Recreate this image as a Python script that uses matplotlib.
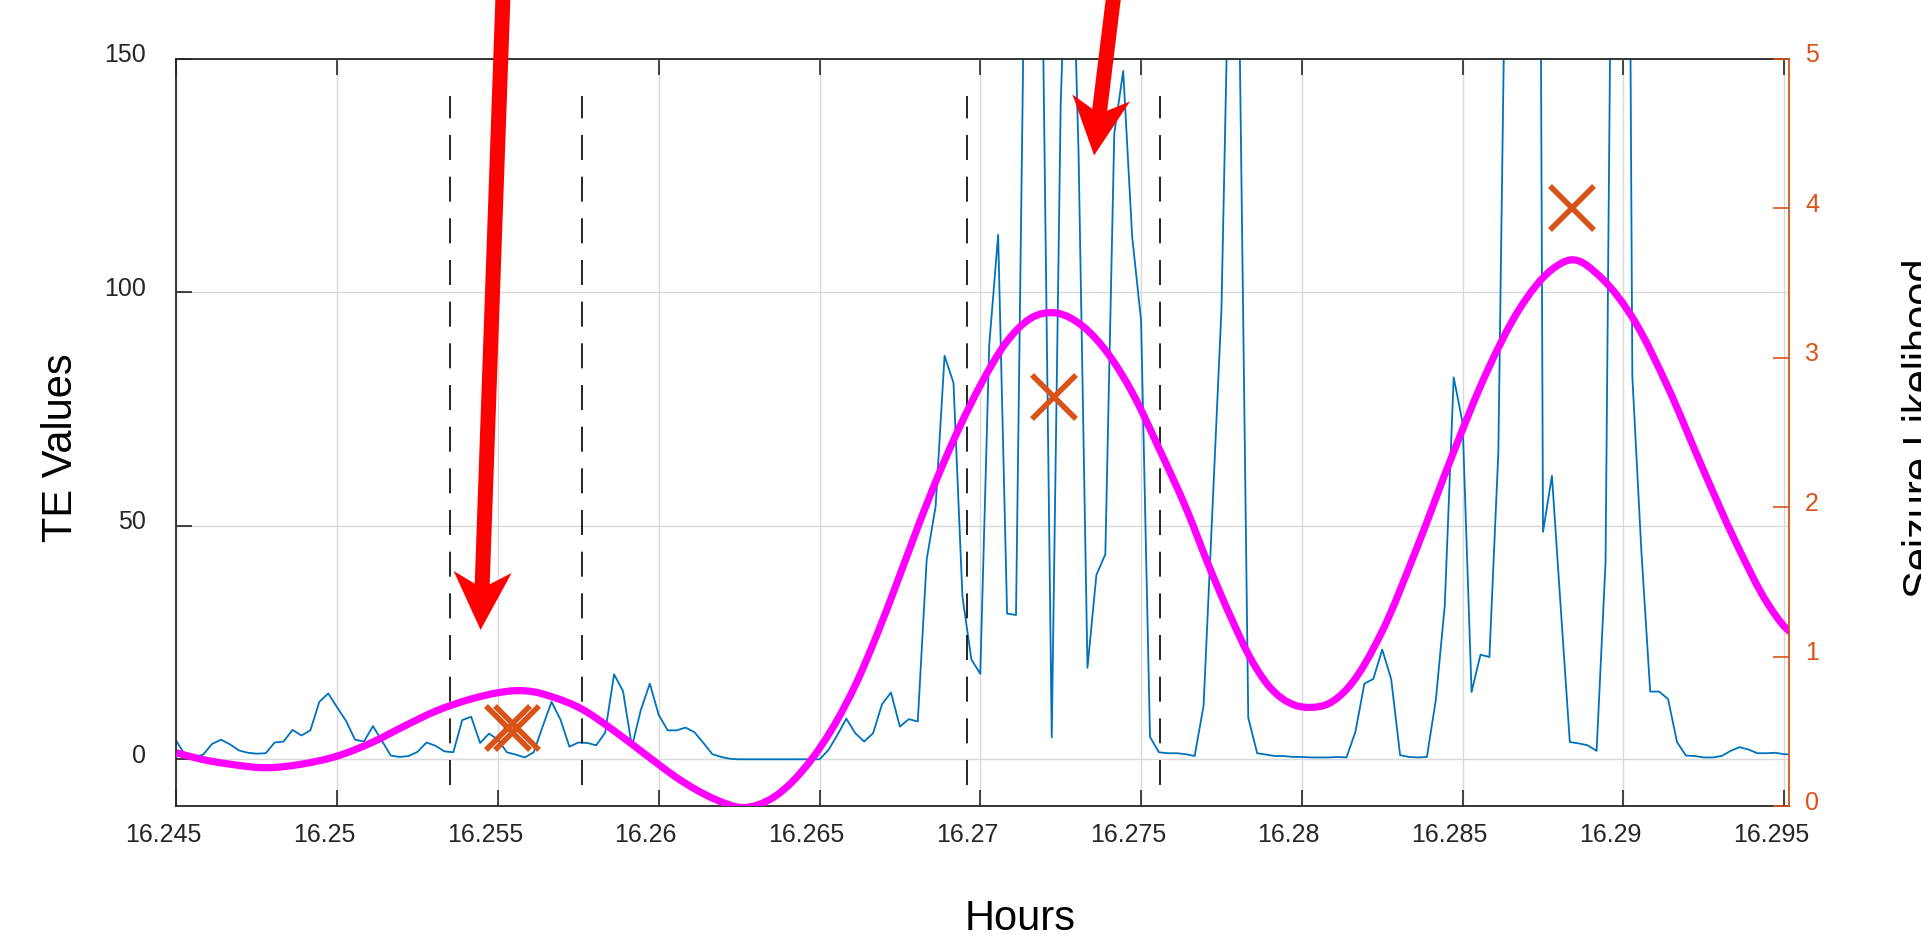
import numpy as np
import matplotlib
matplotlib.use("Agg")
import matplotlib.pyplot as plt
from matplotlib.path import Path
from matplotlib.patches import PathPatch, Polygon
from matplotlib.transforms import ScaledTranslation, IdentityTransform

plt.rcParams['font.family'] = ['Liberation Sans', 'DejaVu Sans']

# TE values, one sample per second starting at 16.245 h
start_hour = 16.245
te_values = [
    3.9, 0.8, 0.5, 1.0, 3.3, 4.2, 3.2, 1.9, 1.4, 1.2,
    1.3, 3.6, 3.8, 6.3, 5.1, 6.2, 12.3, 14.1, 11.1, 8.2,
    4.2, 3.8, 7.1, 4.0, 0.8, 0.5, 0.7, 1.6, 3.6, 2.9,
    1.7, 1.5, 8.4, 9.1, 3.5, 5.5, 4.2, 1.5, 1.0, 0.4,
    1.5, 7.0, 12.3, 8.5, 2.7, 3.6, 3.5, 3.0, 5.7, 18.2,
    14.6, 2.7, 10.6, 16.2, 9.5, 6.2, 6.2, 6.8, 5.8, 3.5,
    1.1, 0.5, 0.1, 0.0, 0.0, 0.0, 0.0, 0.0, 0.0, 0.0,
    0.0, 0.0, 0.0, 2.0, 5.2, 8.7, 5.6, 3.8, 5.6, 11.8,
    14.3, 7.0, 8.6, 8.1, 42.8, 54.2, 86.4, 80.6, 34.9, 21.4,
    18.3, 88.7, 112.3, 31.2, 30.9, 180, 220, 160, 4.7, 140,
    200, 130, 19.6, 39.5, 43.9, 134, 147.4, 112, 94, 4.8,
    1.5, 1.3, 1.3, 1.1, 0.7, 11.5, 54, 96.3, 190, 160,
    8.9, 1.3, 1.0, 0.7, 0.7, 0.5, 0.5, 0.4, 0.4, 0.4,
    0.5, 0.4, 5.9, 16.2, 17.2, 23.5, 17.2, 0.9, 0.5, 0.4,
    0.5, 12.7, 32.9, 81.8, 72, 14.4, 22.4, 21.9, 65.8, 206,
    400, 450, 500, 48.7, 60.7, 32, 3.7, 3.4, 3.0, 1.8,
    42.1, 258, 420, 82, 45, 14.5, 14.5, 12.9, 3.7, 0.8,
    0.7, 0.4, 0.4, 0.7, 1.8, 2.6, 2.1, 1.3, 1.3, 1.4,
    1.1, 1.0,
]
hours = start_hour + np.arange(len(te_values)) / 3600.0

# smoothed seizure likelihood (right axis)
lik_seconds = [0, 3, 6, 10, 14, 18, 22, 25.5, 29, 33, 36, 38, 40, 42, 45.5,
               48.5, 51.3, 53.5, 56, 58, 60.5, 63.3, 67, 71, 73.8, 76.1, 78.4,
               80.75, 83.1, 85.4, 87.7, 90, 92.8, 95.6, 98.6, 101.4, 104.4,
               107.1, 110, 113.2, 115.5, 118, 120.1, 122.2, 125.2, 127, 129,
               131.3, 135, 138.7, 143, 146.6, 150.3, 154, 156.2, 159.6, 163.3,
               167, 170.8, 174.5, 178.2, 180.2, 181]
lik_values = [0.356, 0.31, 0.28, 0.256, 0.28, 0.334, 0.428, 0.534, 0.634, 0.716,
              0.758, 0.772, 0.764, 0.732, 0.645, 0.525, 0.40, 0.30, 0.19, 0.115,
              0.04, -0.01, 0.064, 0.304, 0.556, 0.82, 1.142, 1.506, 1.882, 2.227,
              2.538, 2.814, 3.094, 3.262, 3.298, 3.214, 3.019, 2.757, 2.394, 1.97,
              1.62, 1.27, 1.005, 0.81, 0.675, 0.66, 0.685, 0.80, 1.17, 1.70,
              2.37, 2.89, 3.32, 3.59, 3.655, 3.53, 3.24, 2.80, 2.27, 1.775,
              1.35, 1.19, 1.15]
lik_hours = start_hour + np.array(lik_seconds) / 3600.0

# seizure markers (right axis)
marker_hours = [16.2553, 16.2556, 16.2723, 16.2884]
marker_values = [0.52, 0.52, 2.74, 4.0]

# dashed window boundaries (left axis)
window_hours = [16.2535, 16.2576, 16.2696, 16.2756]
window_low, window_high = -5.5, 142

# red arrows: (hours, TE value) of tip and tail
arrow_tips = [(16.25446, 27.7), (16.27354, 129.3)]
arrow_tails = [(16.2552, 172), (16.2743, 172)]

x_ticks = [16.245, 16.25, 16.255, 16.26, 16.265, 16.27, 16.275, 16.28, 16.285, 16.29, 16.295]
x_tick_labels = ['16.245', '16.25', '16.255', '16.26', '16.265', '16.27',
                 '16.275', '16.28', '16.285', '16.29', '16.295']
left_ticks = [0, 50, 100, 150]
right_ticks = [0, 1, 2, 3, 4, 5]

orange = '#D95319'
dark = '#262626'

fig = plt.figure(figsize=(19.21, 9.34), dpi=100)
ax = fig.add_axes([176.4 / 1921, 128 / 934, 1612.6 / 1921, 747.2 / 934])
ax2 = ax.twinx()

ax.plot(hours, te_values, color='#0072BD', lw=1.3)
ax.vlines(window_hours, window_low, window_high, colors='black',
          linestyles=(0, (15, 10)), lw=1.2)
ax.set_xlim(16.245, 16.29515)
ax.set_ylim(-10, 150)
ax.set_xticks(x_ticks)
ax.set_xticklabels(x_tick_labels)
ax.set_yticks(left_ticks)
ax.grid(True, color='#d9d9d9', lw=1.0)
ax.tick_params(axis='both', direction='in', length=11.5, width=1.2, colors=dark,
               labelsize=18, top=True, right=False)
ax.tick_params(axis='x', pad=12)
ax.tick_params(axis='y', pad=22)
for s in ['left', 'top', 'bottom']:
    ax.spines[s].set_color(dark)
    ax.spines[s].set_linewidth(1.3)
ax.spines['right'].set_visible(False)

# likelihood drawn as a smooth stroke through the read points
lx = np.asarray(lik_hours)
ly = np.asarray(lik_values)
slope = np.gradient(ly, lx)
verts = [(lx[0], ly[0])]
codes = [Path.MOVETO]
for i in range(len(lx) - 1):
    h = lx[i + 1] - lx[i]
    verts += [(lx[i] + h / 3, ly[i] + slope[i] * h / 3),
              (lx[i + 1] - h / 3, ly[i + 1] - slope[i + 1] * h / 3),
              (lx[i + 1], ly[i + 1])]
    codes += [Path.CURVE4] * 3
ax2.add_patch(PathPatch(Path(verts, codes), facecolor='none', edgecolor='#FF00FF',
                        lw=5.2, capstyle='butt'))
ax2.plot(marker_hours, marker_values, linestyle='none', marker='x', ms=32, mew=4.0,
         color=orange)
ax2.set_xlim(16.245, 16.29515)
ax2.set_ylim(0, 5)
ax2.set_yticks(right_ticks)
ax2.tick_params(axis='y', direction='in', length=11.5, width=1.2, colors=orange,
                labelsize=18, pad=11.5)
for s in ['left', 'top', 'bottom']:
    ax2.spines[s].set_visible(False)
ax2.spines['right'].set_color(orange)
ax2.spines['right'].set_linewidth(1.3)

ax.set_xlabel('Hours', fontsize=30, color='black')
ax.xaxis.set_label_coords(0.523, -0.1245)
ax.set_ylabel('TE Values', fontsize=30, color='black')
ax.yaxis.set_label_coords(-0.0593, 0.479)
ax2.set_ylabel('Seizure Likelihood', fontsize=30, color='black')
ax2.yaxis.set_label_coords(1.0701, 0.506)

# tick labels in the original sit a little off their ticks
shift_x = ScaledTranslation(-0.13, 0, fig.dpi_scale_trans)
shift_up = ScaledTranslation(0, 0.06, fig.dpi_scale_trans)
for t in ax.xaxis.get_major_ticks():
    t.label1.set_transform(t.label1.get_transform() + shift_x)
for t in ax.yaxis.get_major_ticks():
    t.label1.set_transform(t.label1.get_transform() + shift_up)
for t in ax2.yaxis.get_major_ticks():
    t.label2.set_transform(t.label2.get_transform() + shift_up)

# barbed red arrows, built in pixels from the data tip/tail
head_len, head_w, notch, shaft_w = 58, 58, 46, 15
for tip, tail in zip(arrow_tips, arrow_tails):
    T = ax.transData.transform(tip)
    S = ax.transData.transform(tail)
    u = (T - S) / np.hypot(*(T - S))
    n = np.array([-u[1], u[0]])
    pts = [T,
           T - u * head_len + n * head_w / 2,
           T - u * notch + n * shaft_w / 2,
           S + n * shaft_w / 2,
           S - n * shaft_w / 2,
           T - u * notch - n * shaft_w / 2,
           T - u * head_len - n * head_w / 2]
    fig.add_artist(Polygon(pts, closed=True, facecolor='red', edgecolor='none',
                           transform=IdentityTransform(), zorder=5))

fig.savefig('out.png', dpi=100)
